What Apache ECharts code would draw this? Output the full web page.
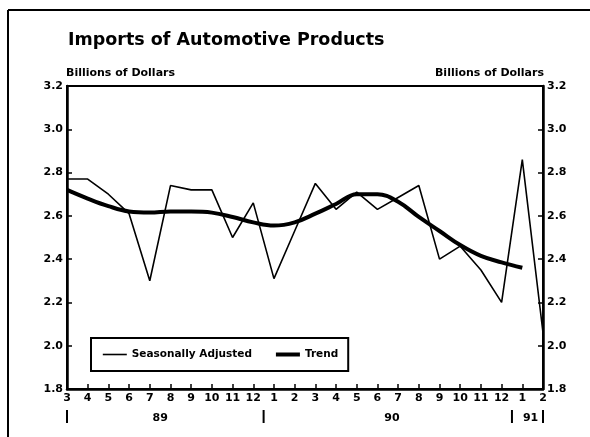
<!DOCTYPE html>
<html>
<head>
<meta charset="utf-8">
<script src="https://cdn.jsdelivr.net/npm/echarts@6/dist/echarts.min.js"></script>
<style>
html,body{margin:0;padding:0;background:#fff;}
#chart{width:590px;height:437px;}
</style>
</head>
<body>
<div id="chart"></div>
<script>
// Month labels (Mar 1989 .. Feb 1991)
var months = ['3','4','5','6','7','8','9','10','11','12','1','2','3','4','5','6','7','8','9','10','11','12','1','2'];
// Seasonally adjusted imports, billions of dollars
var seasonallyAdjusted = [2.77,2.77,2.70,2.61,2.30,2.74,2.72,2.72,2.50,2.66,2.31,2.53,2.75,2.63,2.71,2.63,2.685,2.74,2.40,2.46,2.35,2.20,2.86,2.06];
// Trend
var trend = [2.72,2.68,2.645,2.62,2.615,2.62,2.62,2.615,2.595,2.57,2.555,2.57,2.61,2.655,2.70,2.70,2.665,2.595,2.53,2.465,2.415,2.385,2.36,null];
// Year labels: [text, category index where centered]
var yearLabels = [['89', 4.5], ['90', 15.7], ['91', 22.4]];
// Year separators: positions between categories
var yearSeparators = [0, 9.5, 21.5, 23];
var yTicks = {min: 1.8, max: 3.2, interval: 0.2};

var FONT = 'DejaVu Sans';
var chart = echarts.init(document.getElementById('chart'));
var axisLabelStyle = {color: '#000', fontFamily: FONT, fontWeight: 'bold', fontSize: 11};

function yAxis(pos) {
  return {
    type: 'value', position: pos,
    min: yTicks.min, max: yTicks.max, interval: yTicks.interval,
    axisLine: {show: true, lineStyle: {color: '#000', width: 2.5}},
    axisTick: {show: true, inside: true, length: 5, lineStyle: {color: '#000', width: 1.5}},
    splitLine: {show: false},
    axisLabel: Object.assign({margin: 4, formatter: function(v){return v.toFixed(1);}}, axisLabelStyle)
  };
}

chart.setOption({
  animation: false,
  backgroundColor: '#fff',
  title: {
    text: 'Imports of Automotive Products',
    left: 63, top: 26,
    textStyle: {color: '#000', fontFamily: FONT, fontWeight: 'bold', fontSize: 17.5}
  },
  grid: {left: 67, right: 47, top: 86, bottom: 48, show: true, borderColor: '#000', borderWidth: 2, containLabel: false},
  xAxis: {
    type: 'category', data: months, boundaryGap: false,
    axisLine: {show: true, lineStyle: {color: '#000', width: 2.5}},
    axisTick: {show: true, inside: true, length: 5, interval: 0, lineStyle: {color: '#000', width: 1.5}},
    axisLabel: Object.assign({margin: 4, interval: 0}, axisLabelStyle),
    splitLine: {show: false}
  },
  yAxis: [yAxis('left'), yAxis('right')],
  legend: {
    left: 91, top: 338,
    padding: [11, 10, 11, 11],
    borderColor: '#000', borderWidth: 2,
    itemWidth: 24, itemHeight: 10, itemGap: 22,
    textStyle: {color: '#000', fontFamily: FONT, fontWeight: 'bold', fontSize: 10.5},
    data: [
      {name: 'Seasonally Adjusted', itemStyle: {opacity: 0}, lineStyle: {width: 1.6, color: '#000'}},
      {name: 'Trend', itemStyle: {opacity: 0}, lineStyle: {width: 4, color: '#000'}}
    ]
  },
  series: [
    {name: 'Seasonally Adjusted', type: 'line', data: seasonallyAdjusted, symbol: 'none',
     lineStyle: {color: '#000', width: 1.6}, itemStyle: {color: '#000'}},
    {name: 'Trend', type: 'line', data: trend, symbol: 'none', smooth: 0.4,
     lineStyle: {color: '#000', width: 4}, itemStyle: {color: '#000'}}
  ]
});

var g = [];
var smallFont = 'bold 11px "DejaVu Sans"';
// outer frame
g.push({type: 'line', shape: {x1: 8, y1: 10, x2: 590, y2: 10}, style: {stroke: '#000', lineWidth: 2}});
g.push({type: 'line', shape: {x1: 8, y1: 10, x2: 8, y2: 437}, style: {stroke: '#000', lineWidth: 2}});
// axis titles
g.push({type: 'text', left: 66, top: 68, style: {text: 'Billions of Dollars', fill: '#000', font: smallFont}});
g.push({type: 'text', right: 46, top: 68, style: {text: 'Billions of Dollars', fill: '#000', font: smallFont}});
var x0 = chart.convertToPixel({xAxisIndex: 0}, 0);
var x1 = chart.convertToPixel({xAxisIndex: 0}, 1);
var step = x1 - x0;
yearLabels.forEach(function(y){
  var px = x0 + y[1] * step;
  g.push({type: 'text', x: px, y: 418, style: {text: y[0], fill: '#000', font: smallFont, align: 'center', verticalAlign: 'middle'}});
});
yearSeparators.forEach(function(s){
  var px = x0 + s * step;
  g.push({type: 'line', shape: {x1: px, y1: 410, x2: px, y2: 423}, style: {stroke: '#000', lineWidth: 2}});
});
chart.setOption({graphic: g});
</script>
</body>
</html>
